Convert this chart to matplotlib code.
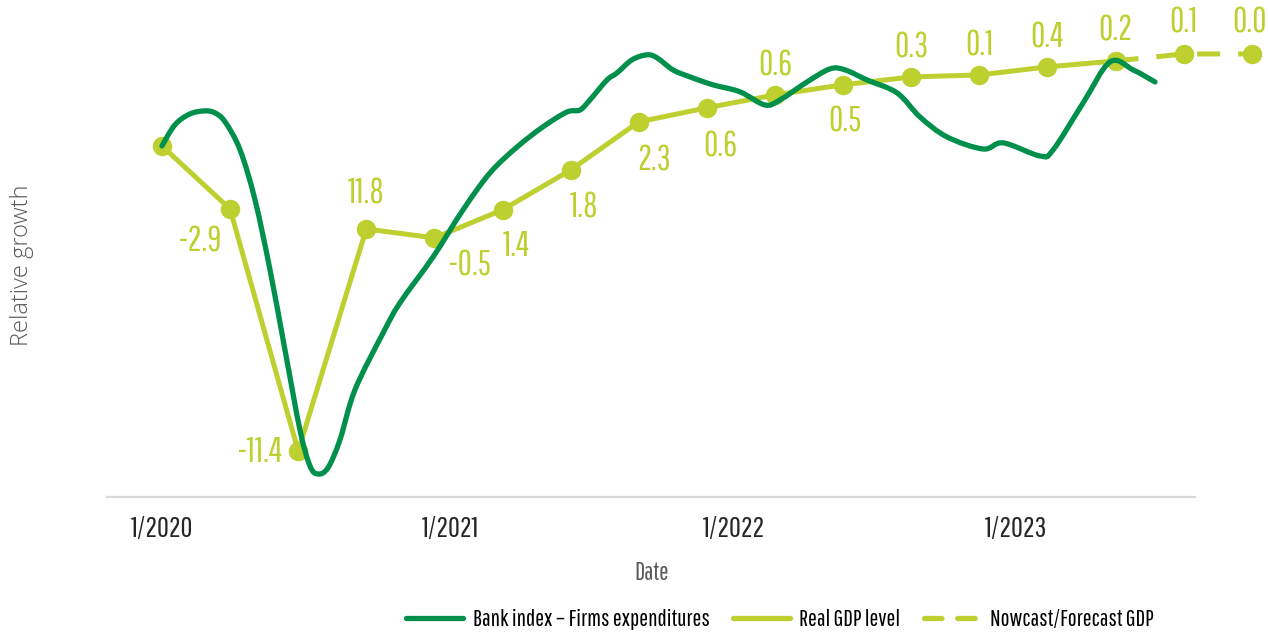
import matplotlib
matplotlib.use("Agg")
import matplotlib.pyplot as plt
from matplotlib.path import Path
from matplotlib.patches import PathPatch
from matplotlib.lines import Line2D

# months after 1/2020
gdp_months = [0, 3, 6, 9, 12, 15, 18, 21, 24, 27, 30, 33, 36, 39, 42, 45, 48]
gdp_level = [100.0, 97.12, 86.07, 96.21, 95.80, 97.08, 98.90, 101.10, 101.74,
             102.33, 102.79, 103.15, 103.24, 103.61, 103.88, 104.20, 104.20]
gdp_labels = ["", "-2.9", "-11.4", "11.8", "-0.5", "1.4", "1.8", "2.3", "0.6",
              "0.6", "0.5", "0.3", "0.1", "0.4", "0.2", "0.1", "0.0"]
n_actual = 15  # last real GDP point index + 1, rest is nowcast/forecast

bank_months = [0.0, 0.57, 1.23, 1.89, 2.33, 2.78, 3.44, 4.10, 4.76, 5.42, 6.08,
               6.52, 6.87, 7.31, 7.84, 8.50, 9.74, 10.48, 11.94, 13.26, 14.45,
               15.64, 16.78, 17.84, 18.41, 18.85, 19.60, 20.04, 20.70, 21.37,
               21.81, 22.51, 23.26, 24.27, 25.46, 26.56, 27.22, 28.41, 29.43,
               30.09, 31.06, 32.38, 33.39, 34.58, 36.17, 37.05, 38.68, 39.25,
               40.57, 41.76, 42.78, 43.74]
bank_level = [100.0, 100.96, 101.46, 101.60, 101.51, 101.10, 99.82, 97.53, 94.34,
              90.68, 87.03, 85.39, 85.02, 85.30, 86.58, 88.86, 91.46, 92.83,
              94.93, 97.08, 98.77, 99.95, 100.87, 101.55, 101.64, 102.10, 103.01,
              103.33, 103.93, 104.16, 104.02, 103.47, 103.15, 102.79, 102.47,
              101.87, 102.10, 102.92, 103.52, 103.47, 103.01, 102.42, 101.32,
              100.41, 99.86, 100.14, 99.54, 99.82, 101.96, 103.84, 103.47, 102.92]

tick_months = [0, 12.7, 25.2, 37.6]
tick_labels = ["1/2020", "1/2021", "1/2022", "1/2023"]

# label offsets in pixels (dx, dy)
label_offsets = [(0, 0), (-30, -32), (-38, 0), (0, 36), (36, -27), (14, -36),
                 (13, -37), (15, -38), (14, -38), (0, 30), (2, -36), (0, 30),
                 (0, 30), (0, 30), (0, 31), (0, 32), (-2, 32)]

LIGHT = "#BDD030"
DARK = "#00904C"
GREY = "#595959"
COND = ["Pathway Gothic One", "Barlow Condensed", "Asap Condensed", "DejaVu Sans"]

fig = plt.figure(figsize=(12.68, 6.35), dpi=100)
ax = fig.add_axes([107 / 1268, 1 - 497 / 635, (1195 - 107) / 1268, (497 - 20) / 635])

# smooth bank curve: catmull-rom converted to bezier segments
verts = [(bank_months[0], bank_level[0])]
codes = [Path.MOVETO]
pts = list(zip(bank_months, bank_level))
for i in range(len(pts) - 1):
    p0 = pts[i - 1] if i > 0 else pts[i]
    p1 = pts[i]
    p2 = pts[i + 1]
    p3 = pts[i + 2] if i + 2 < len(pts) else pts[i + 1]
    c1 = (p1[0] + (p2[0] - p0[0]) / 6, p1[1] + (p2[1] - p0[1]) / 6)
    c2 = (p2[0] - (p3[0] - p1[0]) / 6, p2[1] - (p3[1] - p1[1]) / 6)
    verts += [c1, c2, p2]
    codes += [Path.CURVE4] * 3
ax.add_patch(PathPatch(Path(verts, codes), facecolor="none", edgecolor=DARK,
                       lw=3.8, capstyle="round", zorder=4))

ax.plot(gdp_months[:n_actual], gdp_level[:n_actual], color=LIGHT, lw=3.6,
        marker="o", ms=13, zorder=3, clip_on=False)
ax.plot(gdp_months[n_actual - 1:], gdp_level[n_actual - 1:], color=LIGHT, lw=3.6,
        dashes=(4.6, 3.6), zorder=3, clip_on=False)
ax.plot(gdp_months[n_actual:], gdp_level[n_actual:], color=LIGHT, lw=0,
        marker="o", ms=13, zorder=3, clip_on=False)

for m, v, lab, (dx, dy) in zip(gdp_months, gdp_level, gdp_labels, label_offsets):
    if lab:
        ax.annotate(lab, (m, v), xytext=(dx * 0.72, dy * 0.72),
                    textcoords="offset points", ha="center", va="center",
                    color=LIGHT, fontsize=25, family=COND, annotation_clip=False)

ax.set_xlim(-2.42, 45.5)
ax.set_ylim(83.97, 105.75)
for s in ["left", "right", "top"]:
    ax.spines[s].set_visible(False)
ax.spines["bottom"].set_color("#D9D9D9")
ax.spines["bottom"].set_linewidth(1.6)
ax.set_yticks([])
ax.set_xticks(tick_months)
ax.set_xticklabels(tick_labels, family=COND, fontsize=21, color="#262626")
ax.tick_params(axis="x", length=0, pad=14)

fig.text(652 / 1268, 1 - 573 / 635, "Date", ha="center", va="center",
         family=COND, fontsize=18, color=GREY)
fig.text(22 / 1268, 1 - 265 / 635, "Relative growth", ha="center", va="center",
         rotation=90, family=["Open Sans", "DejaVu Sans"], fontweight="light",
         fontsize=17, color=GREY)

handles = [
    Line2D([], [], color=DARK, lw=3.8, solid_capstyle="round"),
    Line2D([], [], color=LIGHT, lw=3.8, solid_capstyle="round"),
    Line2D([], [], color=LIGHT, lw=3.8, dashes=(3.3, 3.0),
           dash_capstyle="round"),
]
fig.legend(handles, ["Bank index \u2013 Firms expenditures", "Real GDP level",
                     "Nowcast/Forecast GDP"],
           loc="center", bbox_to_anchor=(780 / 1268, 1 - 620 / 635), ncol=3,
           frameon=False, handlelength=2.4, columnspacing=1.0, handletextpad=0.4,
           prop={"family": COND, "size": 17})

fig.savefig("out.png", dpi=100)
